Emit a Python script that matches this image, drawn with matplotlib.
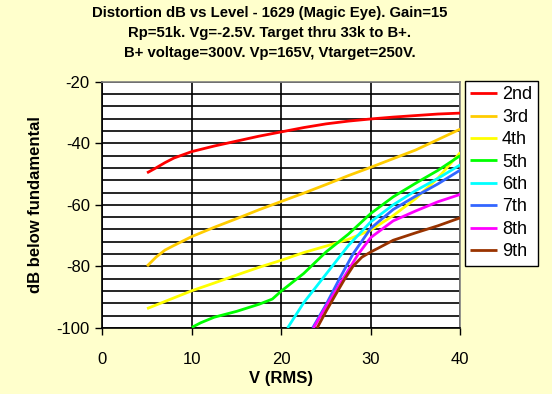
import matplotlib
matplotlib.use("Agg")
import matplotlib.pyplot as plt
from matplotlib.ticker import MultipleLocator

plt.rcParams['font.family'] = ['Liberation Sans', 'DejaVu Sans']
plt.rcParams['axes.unicode_minus'] = False

title_lines = [
    "Distortion dB vs Level - 1629 (Magic Eye). Gain=15",
    "Rp=51k. Vg=-2.5V. Target thru 33k to B+.",
    "B+ voltage=300V. Vp=165V, Vtarget=250V.",
]
xlabel = "V (RMS)"
ylabel = "dB below fundamental"

names = ["2nd", "3rd", "4th", "5th", "6th", "7th", "8th", "9th"]
colors = ["#FF0000", "#FFCC00", "#FFFF00", "#00FF00", "#00FFFF", "#3366FF", "#FF00FF", "#993300"]

x_2nd = [5, 6, 7, 8, 10, 12.5, 15, 17.5, 20, 22.5, 25, 27.5, 30, 32.5, 35, 37.5, 40]
y_2nd = [-49.6, -48.0, -46.3, -44.8, -42.7, -40.9, -39.3, -37.7, -36.3, -34.9, -33.7, -32.8, -32.1, -31.5, -31.0, -30.5, -30.2]

x_3rd = [5, 6, 7, 8, 10, 12.5, 15, 17.5, 20, 22.5, 25, 27.5, 30, 32.5, 35, 37.5, 40]
y_3rd = [-79.9, -77.0, -74.7, -73.2, -70.3, -67.3, -64.5, -61.6, -58.9, -56.2, -53.4, -50.5, -47.8, -45.0, -42.2, -38.8, -35.4]

x_4th = [5, 7.5, 10, 12.5, 15, 17.5, 20, 22.5, 25, 27.5, 30, 32.5, 35, 37.5, 40]
y_4th = [-93.7, -90.8, -87.9, -85.4, -82.8, -80.3, -78.0, -75.5, -73.4, -71.2, -68.2, -63.5, -58.0, -51.3, -43.0]

x_5th = [10, 11, 12.5, 15, 17.5, 19, 20, 22.5, 25, 27.5, 30, 32.5, 35, 37.5, 40]
y_5th = [-99.8, -98.3, -96.5, -94.6, -92.3, -90.6, -88.0, -82.3, -75.3, -69.5, -62.8, -57.4, -53.0, -48.8, -44.0]

x_6th = [20.7, 22.5, 25, 27.5, 30, 32.5, 35, 37.5, 40]
y_6th = [-100, -91.8, -82.5, -73.2, -65.5, -60.0, -55.4, -51.4, -47.0]

x_7th = [23.5, 25, 26.5, 28, 30, 32.5, 35, 37.5, 40]
y_7th = [-100, -92.4, -84, -76, -67.6, -61.5, -57.2, -53.2, -48.7]

x_8th = [23.6, 25, 26.9, 28.6, 30, 32.5, 35, 37.5, 40]
y_8th = [-100, -93, -84, -76, -70.6, -65.2, -62.0, -59.0, -56.6]

x_9th = [24.0, 25, 26, 27, 28, 29, 30, 31, 32.5, 35, 37.5, 40]
y_9th = [-100, -94.6, -89.5, -84.5, -80, -77, -75.3, -73.8, -71.5, -69.1, -66.8, -64.2]

xs = [x_2nd, x_3rd, x_4th, x_5th, x_6th, x_7th, x_8th, x_9th]
ys = [y_2nd, y_3rd, y_4th, y_5th, y_6th, y_7th, y_8th, y_9th]

W, H = 552, 394
bg = "#FFFFCC"
fig = plt.figure(figsize=(W / 100, H / 100), dpi=100, facecolor=bg)
ax = fig.add_axes([102.3 / W, 1 - 328 / H, (460.3 - 102.3) / W, (328 - 81.7) / H])
ax.set_facecolor("white")

for x, y, c, n in zip(xs, ys, colors, names):
    ax.plot(x, y, color=c, lw=2.0, label=n, solid_capstyle="butt", zorder=3, clip_on=True)

ax.set_xlim(0, 40)
ax.set_ylim(-100, -20)
ax.xaxis.set_major_locator(MultipleLocator(10))
ax.yaxis.set_major_locator(MultipleLocator(20))
ax.yaxis.set_minor_locator(MultipleLocator(4))
ax.grid(True, which="major", axis="x", color="black", lw=1.2, zorder=1)
ax.grid(True, which="both", axis="y", color="black", lw=1.2, zorder=1)
ax.tick_params(axis="both", which="major", direction="out", length=5, width=1, labelsize=12, colors="black", pad=4)
ax.tick_params(axis="x", pad=12)
ax.tick_params(axis="y", which="minor", length=0)
for s in ["left", "bottom"]:
    ax.spines[s].set_color("black")
    ax.spines[s].set_linewidth(1.2)
for s in ["right", "top"]:
    ax.spines[s].set_color("#808080")
    ax.spines[s].set_linewidth(1.2)
ax.set_xlabel(xlabel, fontsize=12, fontweight="bold", labelpad=3)
ax.set_ylabel(ylabel, fontsize=12, fontweight="bold", labelpad=10)

for i, line in enumerate(title_lines):
    fig.text(270 / W, 1 - (12.5 + 20.5 * i) / H, line, ha="center", va="center", fontsize=10.7, fontweight="bold")

leg = fig.legend(loc="upper left", bbox_to_anchor=(465 / W, 1 - 81 / H), fontsize=13,
                 frameon=True, fancybox=False, edgecolor="black", facecolor="white", framealpha=1,
                 handlelength=1.45, handletextpad=0.3, labelspacing=0.3, borderpad=0.3, borderaxespad=0)
leg.get_frame().set_linewidth(1.0)

fig.savefig("out.png", dpi=100, facecolor=bg)
